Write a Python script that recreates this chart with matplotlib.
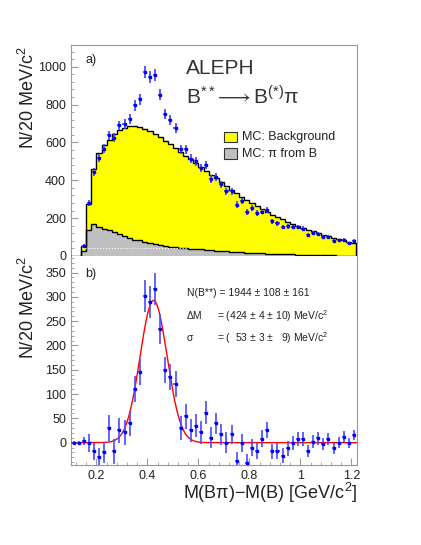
import matplotlib
matplotlib.use("Agg")
import matplotlib.pyplot as plt
from matplotlib.patches import Rectangle
from matplotlib.ticker import MultipleLocator
import numpy as np

plt.rcParams['font.family'] = ['Liberation Sans', 'DejaVu Sans']
plt.rcParams['mathtext.fontset'] = 'custom'
plt.rcParams['mathtext.rm'] = 'Liberation Sans'
plt.rcParams['mathtext.it'] = 'Liberation Sans'

# histogram bins, 20 MeV wide
bin_lo = 0.14
bin_w = 0.02

# MC total (background + pi from B), top of yellow histogram
mc_total = [55, 276, 461, 544, 585, 615, 643, 664, 678, 685, 687, 682, 673, 660, 647,
            629, 610, 590, 570, 550, 530, 510, 490, 470, 450, 430, 410, 390, 370, 350,
            332, 314, 296, 278, 262, 246, 232, 218, 205, 193, 182, 170, 160, 150, 140,
            130, 121, 112, 104, 96, 89, 82, 76, 70]
# MC: pi from B (grey)
mc_pib = [27, 139, 170, 153, 144, 135, 126, 117, 105, 96, 87, 82, 75, 68, 64,
          59, 54, 50, 47, 44, 41, 39, 37, 35, 33, 31, 29, 27, 25, 23,
          21, 20, 18, 17, 15, 14, 13, 12, 11, 10, 9, 8, 7, 6, 6,
          5, 4, 4, 3, 3, 2, 2, 2, 1]

# data, top panel (bin centres 0.15 ... 1.21)
data_a = [55, 280, 444, 518, 567, 638, 625, 690, 699, 726, 796, 828, 973, 946, 958,
          853, 752, 717, 678, 564, 564, 514, 500, 466, 482, 408, 417, 378, 341, 341,
          272, 290, 232, 255, 227, 235, 241, 184, 174, 153, 156, 153, 153, 144, 112,
          123, 117, 100, 100, 79, 82, 87, 68, 79]
err_a = [8, 17, 21, 23, 24, 25, 25, 26, 26, 27, 28, 29, 31, 31, 31,
         29, 27, 27, 26, 24, 24, 23, 22, 22, 22, 20, 20, 19, 18, 18,
         16, 17, 15, 16, 15, 15, 16, 14, 13, 12, 12, 12, 12, 12, 11,
         11, 11, 10, 10, 9, 9, 9, 8, 9]

# data minus background, bottom panel (bin centres 0.11 ... 1.21)
data_b = [0, 0, 3, -1, -18, -30, -20, 30, -18, 25, 21, 40, 110, 145, 302,
          289, 316, 233, 150, 135, 120, 30, 54, 25, 35, 21, 62, 10, 40, 17,
          0, 17, -37, -1, -41, -10, -17, 8, 26, -18, -17, -27, -12, -1, 8,
          8, -17, 2, 9, -3, 7, -12, 0, 12, 0, 16]
err_b = [3, 3, 8, 18, 18, 20, 22, 27, 25, 26, 26, 26, 27, 27, 33,
         33, 33, 31, 27, 27, 27, 25, 25, 24, 24, 23, 23, 22, 22, 21,
         21, 20, 18, 19, 18, 18, 17, 17, 17, 16, 16, 15, 15, 15, 14,
         14, 13, 13, 13, 12, 12, 11, 11, 11, 10, 10]

# fit result
n_sig = 1944
mass = 0.424
sigma = 0.053

W, H = 421, 545
fig = plt.figure(figsize=(W/100, H/100), dpi=100)
ax1 = fig.add_axes([71/W, 1-256/H, 286/W, 211/H])
ax2 = fig.add_axes([71/W, 1-465/H, 286/W, 209/H])

edges = bin_lo + bin_w*np.arange(len(mc_total)+1)
xa = bin_lo + bin_w/2 + bin_w*np.arange(len(data_a))
xb = 0.11 + bin_w*np.arange(len(data_b))

# ---- panel a
ax1.stairs(mc_total, edges, fill=True, color='#ffff00', zorder=1)
ax1.stairs(mc_total, edges, color='black', lw=1.0, zorder=3)
ax1.stairs(mc_pib, edges, fill=True, color='#c0c0c0', zorder=2)
ax1.stairs(mc_pib, edges, color='black', lw=1.0, zorder=3)
ax1.plot([0.145, 0.555], [43, 43], ls=':', color='white', lw=0.8, zorder=3)
ax1.plot([0.1, 0.14], [0, 0], color='#0000ff', lw=1, zorder=4)
ax1.errorbar(xa, data_a, yerr=err_a, xerr=0.008, fmt='s', ms=2, color='#0000ff',
             ecolor='#3c3cff', elinewidth=1.2, capsize=0, zorder=5)
ax1.set_xlim(0.1, 1.222)
ax1.set_ylim(0, 1115)
ax1.yaxis.set_major_locator(MultipleLocator(200))
ax1.yaxis.set_minor_locator(MultipleLocator(40))
ax1.set_xticks([])

# ---- panel b
xf = np.linspace(0.1, 1.222, 500)
amp = n_sig*bin_w/(np.sqrt(2*np.pi)*sigma)
ax2.plot(xf, amp*np.exp(-0.5*((xf-mass)/sigma)**2), color='#ff0000', lw=1.0, zorder=4)
ax2.errorbar(xb, data_b, yerr=err_b, xerr=0.008, fmt='s', ms=2, color='#0000ff',
             ecolor='#4a4aff', elinewidth=1.2, capsize=0, zorder=5)
ax2.set_xlim(0.1, 1.222)
ax2.set_ylim(-46, 384)
ax2.yaxis.set_major_locator(MultipleLocator(50))
ax2.yaxis.set_minor_locator(MultipleLocator(10))
ax2.xaxis.set_minor_locator(MultipleLocator(0.04))
ax2.set_xticks([0.2, 0.4, 0.6, 0.8, 1.0, 1.2])
ax2.set_xticklabels(['0.2', '0.4', '0.6', '0.8', '1', '1.2'])

for ax in (ax1, ax2):
    for s in ax.spines.values():
        s.set_color('#999999')
        s.set_linewidth(0.8)
    ax.tick_params(which='both', direction='in', color='#999999', labelsize=9,
                   labelcolor='#222222', top=False, right=False)
    ax.tick_params(which='major', length=5)
    ax.tick_params(which='minor', length=2.5)
ax1.spines['bottom'].set_visible(False)
ax2.spines['top'].set_visible(False)

def txt(x, y, s, **kw):
    kw.setdefault('va', 'center')
    kw.setdefault('color', '#222222')
    fig.text(x/W, 1-y/H, s, **kw)

ylab = r'N/20 MeV/c$^2$'
txt(28, 46, ylab, rotation=90, ha='center', va='top', fontsize=13)
txt(28, 256, ylab, rotation=90, ha='center', va='top', fontsize=13)
txt(357, 481, r'M(B$\pi$)$-$M(B) [GeV/c$^2$]', ha='right', va='top', fontsize=13)

txt(85, 60, 'a)', fontsize=9)
txt(186, 69, 'ALEPH', fontsize=15, color='#333333')
txt(186, 97, r'B$^{**}\!\longrightarrow$B$^{(*)}\pi$', fontsize=15, color='#333333')

fig.patches.append(Rectangle((224/W, 1-142/H), 13/W, 10/H, transform=fig.transFigure,
                             facecolor='#ffff00', edgecolor='#333333', lw=0.8))
fig.patches.append(Rectangle((224/W, 1-159/H), 13/W, 11/H, transform=fig.transFigure,
                             facecolor='#c0c0c0', edgecolor='#333333', lw=0.8))
txt(242, 137, 'MC: Background', fontsize=9)
txt(242, 154, 'MC: \u03c0 from B', fontsize=9)

txt(85, 274, 'b)', fontsize=9)
txt(187, 293, 'N(B**) = 1944 \u00b1 108 \u00b1 161', fontsize=7.5)
txt(187, 316, '\u0394M', fontsize=7.5)
txt(217, 316, r'= (424 $\pm$ 4 $\pm$ 10) MeV/c$^2$', fontsize=7.5)
txt(187, 338, '\u03c3', fontsize=7.5)
txt(217, 338, r'= (  53 $\pm$ 3 $\pm$   9) MeV/c$^2$', fontsize=7.5)

fig.savefig('out.png', dpi=100)
